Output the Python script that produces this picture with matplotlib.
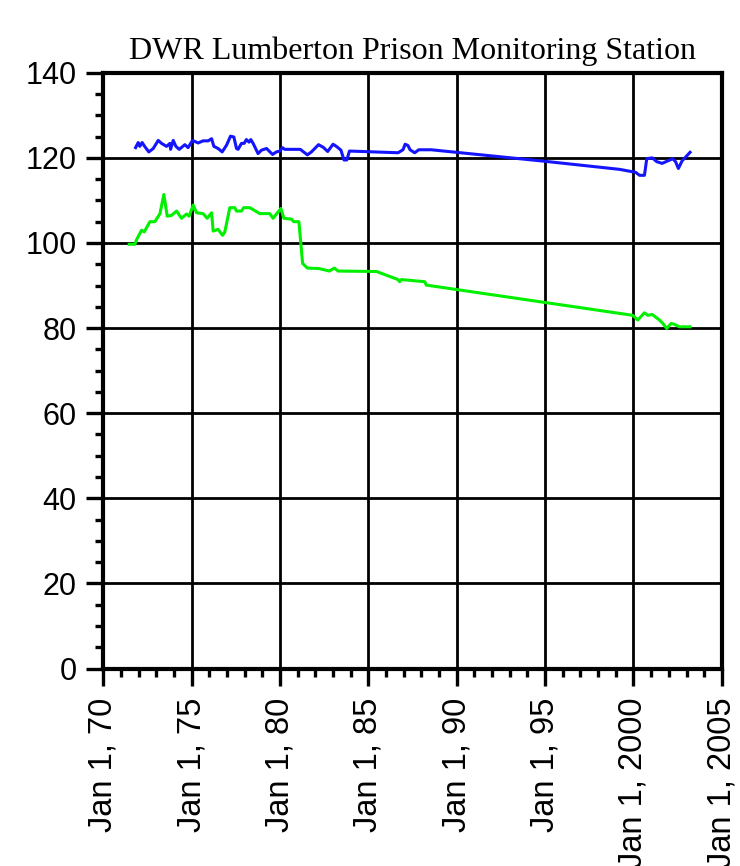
import numpy as np
import matplotlib.pyplot as plt
from matplotlib.ticker import MultipleLocator

# upper station series (blue), decimal years / values
blue_years = [1971.83, 1971.98, 1972.07, 1972.2, 1972.36, 1972.58, 1972.83, 1973.11, 1973.3,
              1973.58, 1973.77, 1973.81, 1973.96, 1974.11, 1974.3, 1974.62, 1974.8, 1975.05,
              1975.37, 1975.65, 1975.94, 1976.13, 1976.26, 1976.5, 1976.73, 1976.98, 1977.2,
              1977.39, 1977.54, 1977.63, 1977.82, 1977.97, 1978.1, 1978.25, 1978.35, 1978.48,
              1978.76, 1978.95, 1979.24, 1979.58, 1979.8, 1979.99, 1980.14, 1980.27, 1981.15,
              1981.55, 1981.78, 1982.18, 1982.44, 1982.7, 1983.0, 1983.19, 1983.45, 1983.62,
              1983.78, 1983.93, 1986.68, 1986.96, 1987.08, 1987.24, 1987.36, 1987.62, 1987.85,
              1988.56, 1989.98, 1994.97, 1999.21, 2000.12, 2000.34, 2000.62, 2000.75, 2001.06,
              2001.32, 2001.62, 2001.94, 2002.22, 2002.38, 2002.54, 2002.75, 2003.2]
blue_vals = [122.4, 123.6, 122.7, 123.6, 122.6, 121.4, 122.2, 124.1, 123.4,
             122.7, 123.4, 122.0, 124.1, 122.7, 122.0, 123.1, 122.4, 124.1,
             123.5, 124.0, 124.0, 124.5, 122.7, 122.2, 121.4, 123.0, 125.1,
             124.9, 122.2, 122.0, 123.4, 123.4, 124.3, 123.7, 124.3, 123.4,
             121.0, 121.8, 122.2, 120.8, 121.4, 121.6, 122.4, 122.0, 122.0,
             120.7, 121.4, 123.1, 122.5, 121.5, 123.2, 122.7, 121.8, 119.5,
             119.5, 121.6, 121.2, 121.9, 123.2, 122.9, 121.9, 121.2, 121.9,
             121.9, 121.3, 119.2, 117.3, 116.6, 115.9, 115.9, 119.8, 120.0,
             119.1, 118.7, 119.3, 119.8, 119.1, 117.5, 119.3, 121.3]

# lower station series (green)
green_years = [1971.47, 1971.79, 1971.89, 1972.17, 1972.32, 1972.64, 1972.92, 1973.21, 1973.43,
               1973.62, 1973.87, 1974.15, 1974.43, 1974.71, 1974.86, 1975.09, 1975.28, 1975.65,
               1975.88, 1976.13, 1976.22, 1976.5, 1976.75, 1976.88, 1977.16, 1977.44, 1977.54,
               1977.82, 1977.95, 1978.29, 1978.86, 1979.42, 1979.61, 1980.05, 1980.22, 1980.65,
               1980.78, 1981.07, 1981.28, 1981.55, 1982.2, 1982.8, 1983.07, 1983.29, 1985.46,
               1986.68, 1986.77, 1986.87, 1988.19, 1988.28, 1999.96, 2000.24, 2000.62, 2000.81,
               2001.06, 2001.47, 2001.66, 2001.88, 2002.13, 2002.31, 2002.6, 2003.2]
green_vals = [99.7, 99.7, 100.8, 103.0, 102.6, 105.0, 105.0, 106.9, 111.4,
              106.3, 106.5, 107.5, 105.8, 106.8, 106.3, 108.9, 107.1, 106.9,
              105.8, 107.1, 102.8, 103.2, 101.8, 102.6, 108.3, 108.3, 107.5,
              107.5, 108.3, 108.3, 106.9, 106.9, 105.8, 108.1, 105.8, 105.6,
              105.0, 105.0, 95.2, 94.1, 94.0, 93.4, 94.1, 93.4, 93.3,
              91.4, 90.9, 91.4, 90.9, 90.1, 83.0, 81.9, 83.6, 83.0,
              83.2, 81.9, 81.1, 79.9, 81.1, 80.9, 80.3, 80.3]

x_ticks = [1970, 1975, 1980, 1985, 1990, 1995, 2000, 2005]
x_labels = ["Jan 1, 70", "Jan 1, 75", "Jan 1, 80", "Jan 1, 85", "Jan 1, 90",
            "Jan 1, 95", "Jan 1, 2000", "Jan 1, 2005"]
y_ticks = [0, 20, 40, 60, 80, 100, 120, 140]

plt.rcParams['font.family'] = ['Liberation Sans', 'DejaVu Sans']

fig = plt.figure(figsize=(7.4, 8.66), dpi=100)
ax = fig.add_axes([0.1395, 0.228, 0.836, 0.688])

ax.plot(blue_years, blue_vals, color='#1414ff', lw=2.2, zorder=3)
ax.plot(green_years, green_vals, color='#00f000', lw=2.2, zorder=3)

ax.set_xlim(1970, 2005)
ax.set_ylim(0, 140)
ax.set_xticks(x_ticks)
ax.set_xticklabels(x_labels, rotation=90, fontsize=23.5)
ax.set_yticks(y_ticks)
ax.tick_params(axis='y', labelsize=22)
ax.xaxis.set_minor_locator(MultipleLocator(1))
ax.yaxis.set_minor_locator(MultipleLocator(5))

ax.tick_params(which='major', length=12, width=2.4, color='black', pad=7)
ax.tick_params(which='minor', length=6, width=2.4, color='black')
ax.tick_params(axis='x', which='major', pad=9)
ax.tick_params(top=False, right=False, which='both')

ax.grid(True, which='major', color='black', lw=2.0)
ax.set_axisbelow(True)
for s in ax.spines.values():
    s.set_linewidth(3)

ax.set_title("DWR Lumberton Prison Monitoring Station", family='Liberation Serif',
             fontsize=23, pad=10)

fig.savefig('out.png', dpi=100)
